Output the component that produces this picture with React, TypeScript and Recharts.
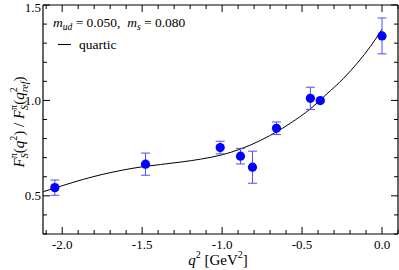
import React from 'react';
import { ComposedChart, Line, Scatter, XAxis, YAxis, ErrorBar, Customized } from 'recharts';

// Lattice points: q^2 [GeV^2], ratio, error
const pointQ2 = [-2.046, -1.479, -1.012, -0.885, -0.81, -0.66, -0.448, -0.386, 0.0];
const pointRatio = [0.543, 0.666, 0.753, 0.708, 0.65, 0.854, 1.011, 0.999, 1.338];
const pointErr = [0.04, 0.058, 0.033, 0.041, 0.084, 0.033, 0.058, 0.006, 0.094];

// Quartic fit curve
const fitQ2 = [-2.117, -2.0, -1.865, -1.75, -1.615, -1.5, -1.386, -1.25, -1.136, -1.0, -0.886, -0.761, -0.65, -0.574, -0.449, -0.35, -0.24, -0.15, -0.073, 0.0];
const fitRatio = [0.522, 0.553, 0.587, 0.612, 0.636, 0.652, 0.664, 0.678, 0.692, 0.715, 0.745, 0.79, 0.84, 0.88, 0.955, 1.03, 1.116, 1.2, 1.282, 1.373];

// Ticks
const xMajorTicks = [-2.0, -1.5, -1.0, -0.5, 0.0];
const xAllTicks = [-2.1, -2.0, -1.9, -1.8, -1.7, -1.6, -1.5, -1.4, -1.3, -1.2, -1.1, -1.0, -0.9, -0.8, -0.7, -0.6, -0.5, -0.4, -0.3, -0.2, -0.1, 0.0, 0.1];
const yMajorTicks = [0.5, 1.0, 1.5];
const yAllTicks = [0.3, 0.4, 0.5, 0.6, 0.7, 0.8, 0.9, 1.0, 1.1, 1.2, 1.3, 1.4, 1.5];

const xDomain = [-2.12, 0.1];
const yDomain = [0.3, 1.5];

const points = pointQ2.map((x, i) => ({ x, y: pointRatio[i], err: pointErr[i] }));
const fit = fitQ2.map((x, i) => ({ x, y: fitRatio[i] }));

const FONT = "'Liberation Serif', 'Times New Roman', serif";
const MAJOR = 7;
const MINOR = 4;

const isMajor = (v: number, majors: number[]) => majors.some((m) => Math.abs(m - v) < 1e-6);

const txt = { fontFamily: FONT, whiteSpace: 'pre' as const };

const BottomTick = (props: any) => {
  const { x, y, payload } = props;
  const major = isMajor(payload.value, xMajorTicks);
  return (
    <g>
      <line x1={x} y1={y} x2={x} y2={y - (major ? MAJOR : MINOR)} stroke="#000" strokeWidth={1} />
      {major && (
        <text x={x} y={y + 14.5} textAnchor="middle" fontSize={13} style={txt} fill="#000">
          {payload.value.toFixed(1)}
        </text>
      )}
    </g>
  );
};

const TopTick = (props: any) => {
  const { x, y, payload } = props;
  const major = isMajor(payload.value, xMajorTicks);
  return <line x1={x} y1={y} x2={x} y2={y + (major ? MAJOR : MINOR)} stroke="#000" strokeWidth={1} />;
};

const LeftTick = (props: any) => {
  const { x, y, payload } = props;
  const major = isMajor(payload.value, yMajorTicks);
  return (
    <g>
      <line x1={x} y1={y} x2={x + (major ? MAJOR : MINOR)} y2={y} stroke="#000" strokeWidth={1} />
      {major && (
        <text x={x - 2} y={Math.max(y + 4.5, 11.5)} textAnchor="end" fontSize={13} style={txt} fill="#000">
          {payload.value.toFixed(1)}
        </text>
      )}
    </g>
  );
};

const RightTick = (props: any) => {
  const { x, y, payload } = props;
  const major = isMajor(payload.value, yMajorTicks);
  return <line x1={x} y1={y} x2={x - (major ? MAJOR : MINOR)} y2={y} stroke="#000" strokeWidth={1} />;
};

const Dot = (props: any) => {
  const { cx, cy } = props;
  return <circle cx={cx} cy={cy} r={4.6} fill="#0000ff" />;
};

const Overlay = () => (
  <g fill="#000">
    <text x={53} y={27} fontSize={13.5} style={txt}>
      <tspan fontStyle="italic">m</tspan>
      <tspan fontStyle="italic" fontSize={9.5} dy={3}>ud</tspan>
      <tspan dy={-3}>{' = 0.050,  '}</tspan>
      <tspan fontStyle="italic">m</tspan>
      <tspan fontStyle="italic" fontSize={9.5} dy={3}>s</tspan>
      <tspan dy={-3}>{' = 0.080'}</tspan>
    </text>
    <line x1={58} y1={44.5} x2={71} y2={44.5} stroke="#000" strokeWidth={1} />
    <text x={79} y={49} fontSize={13.5} style={txt}>quartic</text>
    <text x={218} y={265} fontSize={15} textAnchor="middle" style={txt}>
      <tspan fontStyle="italic">q</tspan>
      <tspan fontSize={10} dy={-7}>2</tspan>
      <tspan dy={7}>{' [GeV'}</tspan>
      <tspan fontSize={10} dy={-7}>2</tspan>
      <tspan dy={7}>]</tspan>
    </text>
    <text x={24} y={122} fontSize={15} textAnchor="middle" transform="rotate(-90 24 122)" style={txt}>
      <tspan fontStyle="italic">F</tspan>
      <tspan fontStyle="italic" fontSize={10} dy={4}>S</tspan>
      <tspan fontSize={10} dx={-5} dy={-11}>π</tspan>
      <tspan dy={7}>(</tspan>
      <tspan fontStyle="italic">q</tspan>
      <tspan fontSize={10} dy={-7}>2</tspan>
      <tspan dy={7}>{') / '}</tspan>
      <tspan fontStyle="italic">F</tspan>
      <tspan fontStyle="italic" fontSize={10} dy={4}>S</tspan>
      <tspan fontSize={10} dx={-5} dy={-11}>π</tspan>
      <tspan dy={7}>(</tspan>
      <tspan fontStyle="italic">q</tspan>
      <tspan fontSize={10} dy={-7}>2</tspan>
      <tspan fontStyle="italic" fontSize={10} dx={-5} dy={11}>ref</tspan>
      <tspan dy={-4}>)</tspan>
    </text>
  </g>
);

export default function App() {
  return (
    <div style={{ position: 'absolute', left: 0, top: 0, width: 399, height: 270, background: '#fff' }}>
      <ComposedChart width={399} height={270} margin={{ top: 4, right: 0, bottom: 35, left: 42 }}>
        <XAxis
          dataKey="x"
          type="number"
          domain={xDomain}
          ticks={xAllTicks}
          interval={0}
          height={1}
          tickSize={0}
          tickMargin={0}
          tick={<BottomTick />}
          axisLine={{ stroke: '#000', strokeWidth: 1.2 }}
          tickLine={false}
          allowDataOverflow
        />
        <XAxis
          xAxisId="top"
          orientation="top"
          dataKey="x"
          type="number"
          domain={xDomain}
          ticks={xAllTicks}
          interval={0}
          height={1}
          tickSize={0}
          tickMargin={0}
          tick={<TopTick />}
          axisLine={{ stroke: '#000', strokeWidth: 1.2 }}
          tickLine={false}
          allowDataOverflow
        />
        <YAxis
          type="number"
          domain={yDomain}
          ticks={yAllTicks}
          interval={0}
          width={1}
          tickSize={0}
          tickMargin={0}
          tick={<LeftTick />}
          axisLine={{ stroke: '#000', strokeWidth: 1.2 }}
          tickLine={false}
          allowDataOverflow
        />
        <YAxis
          yAxisId="right"
          orientation="right"
          type="number"
          domain={yDomain}
          ticks={yAllTicks}
          interval={0}
          width={1}
          tickSize={0}
          tickMargin={0}
          tick={<RightTick />}
          axisLine={{ stroke: '#000', strokeWidth: 1.2 }}
          tickLine={false}
          allowDataOverflow
        />
        <Line
          data={fit}
          dataKey="y"
          type="monotone"
          stroke="#000"
          strokeWidth={1}
          dot={false}
          activeDot={false}
          isAnimationActive={false}
        />
        <Scatter data={points} dataKey="y" shape={<Dot />} isAnimationActive={false}>
          <ErrorBar dataKey="err" direction="y" width={4.5} stroke="#4d4dff" strokeWidth={1} isAnimationActive={false} />
        </Scatter>
        <Customized component={Overlay} />
      </ComposedChart>
    </div>
  );
}
